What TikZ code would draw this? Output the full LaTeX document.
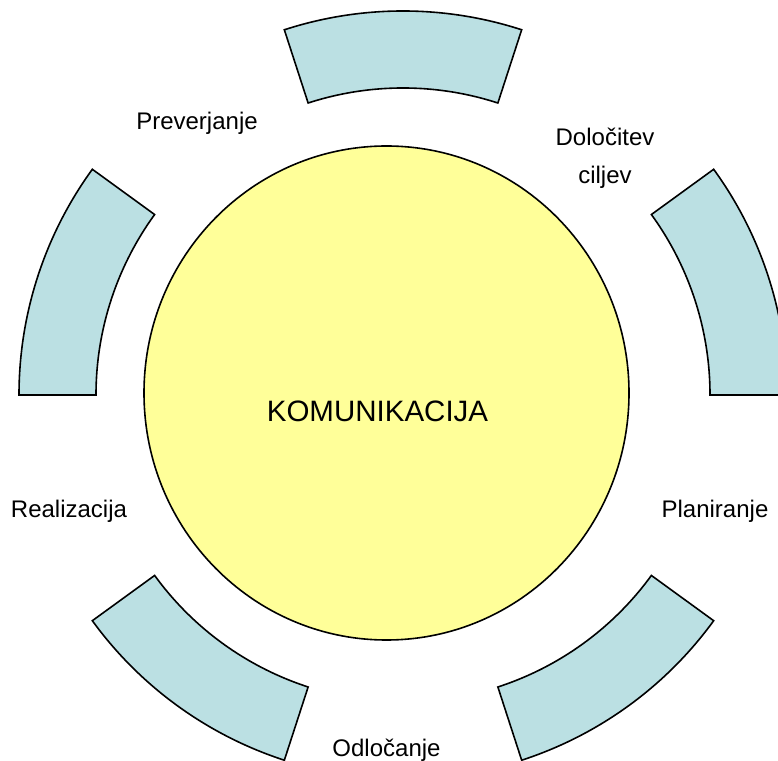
\documentclass[tikz,border=0pt]{standalone}
\usepackage{fontspec}
\setmainfont{Liberation Sans}
\usetikzlibrary{calc}
\definecolor{segfill}{HTML}{BBE0E3}
\definecolor{hubfill}{HTML}{FFFF99}
\begin{document}
\begin{tikzpicture}[x=1pt,y=1pt,
  seg/.style={draw=black,line width=1.6pt,fill=segfill,line join=miter},
  hub/.style={draw=black,line width=1.6pt,fill=hubfill},
  lbl/.style={font=\fontsize{24}{38}\selectfont,align=center,inner sep=0pt,anchor=base},
  hubtext/.style={font=\fontsize{29.5}{35}\selectfont,inner sep=0pt,anchor=base}]
\useasboundingbox (0,0) rectangle (778,760);
\coordinate (ring) at (403,365);
\coordinate (hubc) at (386.5,367);
% ring segments
\foreach \a in {0,72,144,216,288}{
  \draw[seg] ($(ring)+(\a:384)$) arc[start angle=\a, end angle=\a+36, radius=384]
     -- ($(ring)+(\a+36:307)$) arc[start angle=\a+36, end angle=\a, radius=307] -- cycle;
}
% central ellipse
\draw[hub] (hubc) ellipse[x radius=242.5, y radius=247];
\node[hubtext] (komunikacija) at (377.5,338) {KOMUNIKACIJA};
% labels
\node[lbl] (preverjanje) at (197,630) {Preverjanje};
\node[lbl] (dolocitev) at (605,576) {Določitev\\ciljev};
\node[lbl] (planiranje) at (715,242) {Planiranje};
\node[lbl] (realizacija) at (69,242) {Realizacija};
\node[lbl] (odlocanje) at (386.5,3.5) {Odločanje};
\end{tikzpicture}
\end{document}
